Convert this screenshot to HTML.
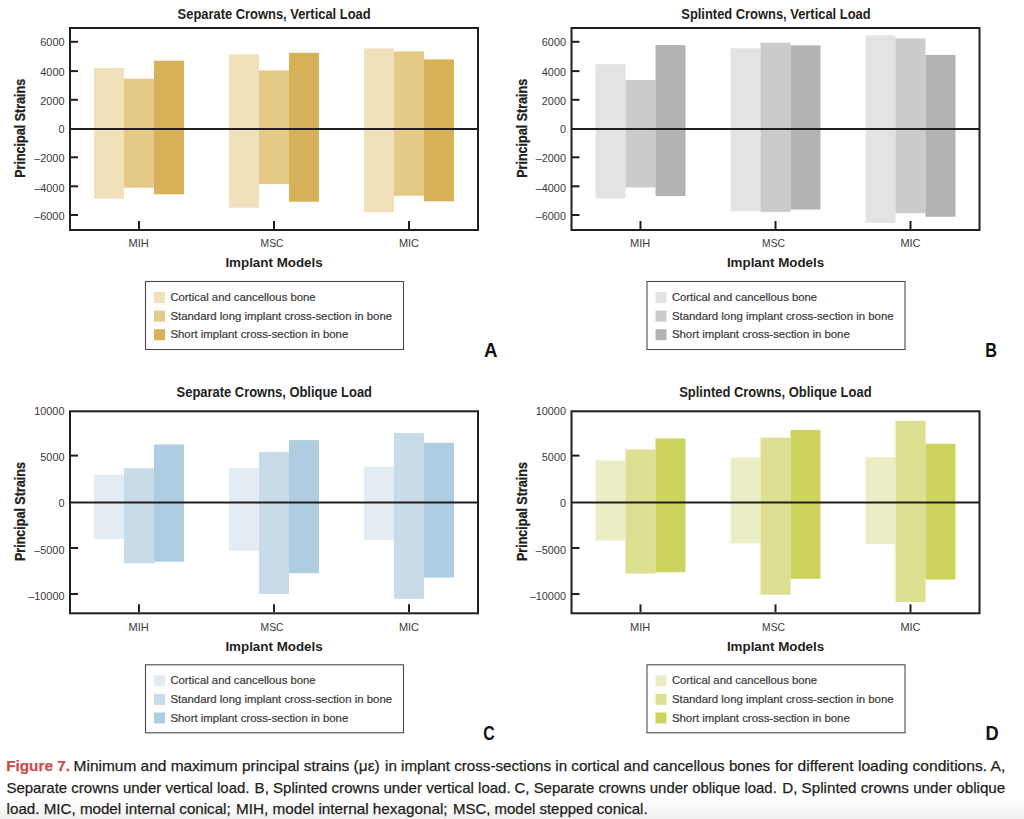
<!DOCTYPE html>
<html><head><meta charset="utf-8"><style>
html,body{margin:0;padding:0;background:#fff;}
body{width:1024px;height:819px;overflow:hidden;position:relative;}
.grad{position:absolute;left:0;top:798px;width:1024px;height:21px;background:linear-gradient(to bottom,rgba(240,240,240,0),rgba(240,240,240,1));}
svg{position:absolute;left:0;top:0;}
text{font-family:"Liberation Sans",sans-serif;}
</style></head><body>
<div class="grad"></div>
<svg width="1024" height="819" viewBox="0 0 1024 819">
<rect x="94" y="68" width="30" height="130.7" fill="#f0e1bb"/>
<rect x="124" y="78.7" width="30" height="109" fill="#e4c987"/>
<rect x="154" y="60.7" width="30" height="133.6" fill="#d7b157"/>
<rect x="229" y="54.3" width="30" height="153.4" fill="#f0e1bb"/>
<rect x="259" y="70.4" width="30" height="113.7" fill="#e4c987"/>
<rect x="289" y="52.8" width="30" height="148.9" fill="#d7b157"/>
<rect x="364" y="48.4" width="30" height="163.9" fill="#f0e1bb"/>
<rect x="394" y="51.4" width="30" height="144.4" fill="#e4c987"/>
<rect x="424" y="59.4" width="30" height="141.9" fill="#d7b157"/>
<line x1="70" y1="128.9" x2="478" y2="128.9" stroke="#231f20" stroke-width="2"/>
<line x1="70" y1="41.8" x2="78" y2="41.8" stroke="#231f20" stroke-width="2"/>
<text x="64.5" y="45.9" fill="#3a3a3a" font-size="10.9" text-anchor="end">6000</text>
<line x1="70" y1="71.1" x2="78" y2="71.1" stroke="#231f20" stroke-width="2"/>
<text x="64.5" y="76.2" fill="#3a3a3a" font-size="10.9" text-anchor="end">4000</text>
<line x1="70" y1="99.8" x2="78" y2="99.8" stroke="#231f20" stroke-width="2"/>
<text x="64.5" y="104.9" fill="#3a3a3a" font-size="10.9" text-anchor="end">2000</text>
<text x="64.5" y="132.9" fill="#3a3a3a" font-size="10.9" text-anchor="end">0</text>
<line x1="70" y1="157.3" x2="78" y2="157.3" stroke="#231f20" stroke-width="2"/>
<text x="64.5" y="162.3" fill="#3a3a3a" font-size="10.9" text-anchor="end">–2000</text>
<line x1="70" y1="186.3" x2="78" y2="186.3" stroke="#231f20" stroke-width="2"/>
<text x="64.5" y="191.9" fill="#3a3a3a" font-size="10.9" text-anchor="end">–4000</text>
<line x1="70" y1="215" x2="78" y2="215" stroke="#231f20" stroke-width="2"/>
<text x="64.5" y="220.4" fill="#3a3a3a" font-size="10.9" text-anchor="end">–6000</text>
<line x1="139" y1="221" x2="139" y2="229" stroke="#231f20" stroke-width="2"/>
<line x1="274" y1="221" x2="274" y2="229" stroke="#231f20" stroke-width="2"/>
<line x1="409" y1="221" x2="409" y2="229" stroke="#231f20" stroke-width="2"/>
<rect x="70" y="28" width="408" height="202" fill="none" stroke="#231f20" stroke-width="2"/>
<text x="177.6" y="19.4" fill="#231f20" font-size="14" font-weight="bold" textLength="193" lengthAdjust="spacingAndGlyphs">Separate Crowns, Vertical Load</text>
<text transform="translate(25,128.3) rotate(-90)" x="0" y="0" text-anchor="middle" fill="#231f20" stroke="#231f20" stroke-width="0.3" font-size="14.6" font-weight="bold" textLength="99" lengthAdjust="spacingAndGlyphs">Principal Strains</text>
<text x="128.6" y="247.1" fill="#3a3a3a" font-size="11.2" textLength="20.2" lengthAdjust="spacingAndGlyphs">MIH</text>
<text x="260.6" y="247.1" fill="#3a3a3a" font-size="11.2" textLength="23" lengthAdjust="spacingAndGlyphs">MSC</text>
<text x="399" y="247.1" fill="#3a3a3a" font-size="11.2" textLength="20" lengthAdjust="spacingAndGlyphs">MIC</text>
<text x="225.4" y="267.2" fill="#231f20" font-size="13.6" font-weight="bold" textLength="97.3" lengthAdjust="spacingAndGlyphs">Implant Models</text>
<rect x="145.5" y="281.5" width="258" height="68" fill="none" stroke="#4a4a4a" stroke-width="1.1"/>
<rect x="154" y="292" width="11" height="11" fill="#f0e1bb"/>
<text x="170.4" y="300.9" fill="#3a3a3a" font-size="11.2" textLength="145.2" lengthAdjust="spacingAndGlyphs" stroke="#3a3a3a" stroke-width="0.2">Cortical and cancellous bone</text>
<rect x="154" y="310.6" width="11" height="11" fill="#e4c987"/>
<text x="170.4" y="319.6" fill="#3a3a3a" font-size="11.2" textLength="221.7" lengthAdjust="spacingAndGlyphs" stroke="#3a3a3a" stroke-width="0.2">Standard long implant cross-section in bone</text>
<rect x="154" y="329.2" width="11" height="11" fill="#d7b157"/>
<text x="170.4" y="338.3" fill="#3a3a3a" font-size="11.2" textLength="177.9" lengthAdjust="spacingAndGlyphs" stroke="#3a3a3a" stroke-width="0.2">Short implant cross-section in bone</text>
<text x="484" y="357" fill="#111" font-size="19.5" font-weight="bold" textLength="13.5" lengthAdjust="spacingAndGlyphs">A</text>
<rect x="595.5" y="64.2" width="30" height="134.3" fill="#e3e3e3"/>
<rect x="625.5" y="80" width="30" height="107.5" fill="#cbcbcb"/>
<rect x="655.5" y="45.1" width="30" height="150.9" fill="#b3b3b3"/>
<rect x="730.5" y="48.3" width="30" height="162.9" fill="#e3e3e3"/>
<rect x="760.5" y="42.7" width="30" height="169.2" fill="#cbcbcb"/>
<rect x="790.5" y="45.4" width="30" height="164.1" fill="#b3b3b3"/>
<rect x="865.5" y="35.4" width="30" height="187.5" fill="#e3e3e3"/>
<rect x="895.5" y="38.5" width="30" height="174.7" fill="#cbcbcb"/>
<rect x="925.5" y="54.9" width="30" height="161.9" fill="#b3b3b3"/>
<line x1="571.5" y1="128.9" x2="979.5" y2="128.9" stroke="#231f20" stroke-width="2"/>
<line x1="571.5" y1="41.8" x2="579.5" y2="41.8" stroke="#231f20" stroke-width="2"/>
<text x="566" y="45.9" fill="#3a3a3a" font-size="10.9" text-anchor="end">6000</text>
<line x1="571.5" y1="71.1" x2="579.5" y2="71.1" stroke="#231f20" stroke-width="2"/>
<text x="566" y="76.2" fill="#3a3a3a" font-size="10.9" text-anchor="end">4000</text>
<line x1="571.5" y1="99.8" x2="579.5" y2="99.8" stroke="#231f20" stroke-width="2"/>
<text x="566" y="104.9" fill="#3a3a3a" font-size="10.9" text-anchor="end">2000</text>
<text x="566" y="132.9" fill="#3a3a3a" font-size="10.9" text-anchor="end">0</text>
<line x1="571.5" y1="157.3" x2="579.5" y2="157.3" stroke="#231f20" stroke-width="2"/>
<text x="566" y="162.3" fill="#3a3a3a" font-size="10.9" text-anchor="end">–2000</text>
<line x1="571.5" y1="186.3" x2="579.5" y2="186.3" stroke="#231f20" stroke-width="2"/>
<text x="566" y="191.9" fill="#3a3a3a" font-size="10.9" text-anchor="end">–4000</text>
<line x1="571.5" y1="215" x2="579.5" y2="215" stroke="#231f20" stroke-width="2"/>
<text x="566" y="220.4" fill="#3a3a3a" font-size="10.9" text-anchor="end">–6000</text>
<line x1="640.5" y1="221" x2="640.5" y2="229" stroke="#231f20" stroke-width="2"/>
<line x1="775.5" y1="221" x2="775.5" y2="229" stroke="#231f20" stroke-width="2"/>
<line x1="910.5" y1="221" x2="910.5" y2="229" stroke="#231f20" stroke-width="2"/>
<rect x="571.5" y="28" width="408" height="202" fill="none" stroke="#231f20" stroke-width="2"/>
<text x="681.3" y="19.4" fill="#231f20" font-size="14" font-weight="bold" textLength="189.3" lengthAdjust="spacingAndGlyphs">Splinted Crowns, Vertical Load</text>
<text transform="translate(526.5,128.3) rotate(-90)" x="0" y="0" text-anchor="middle" fill="#231f20" stroke="#231f20" stroke-width="0.3" font-size="14.6" font-weight="bold" textLength="99" lengthAdjust="spacingAndGlyphs">Principal Strains</text>
<text x="630.1" y="247.1" fill="#3a3a3a" font-size="11.2" textLength="20.2" lengthAdjust="spacingAndGlyphs">MIH</text>
<text x="762.1" y="247.1" fill="#3a3a3a" font-size="11.2" textLength="23" lengthAdjust="spacingAndGlyphs">MSC</text>
<text x="900.5" y="247.1" fill="#3a3a3a" font-size="11.2" textLength="20" lengthAdjust="spacingAndGlyphs">MIC</text>
<text x="726.9" y="267.2" fill="#231f20" font-size="13.6" font-weight="bold" textLength="97.3" lengthAdjust="spacingAndGlyphs">Implant Models</text>
<rect x="647" y="281.5" width="258" height="68" fill="none" stroke="#4a4a4a" stroke-width="1.1"/>
<rect x="655.5" y="292" width="11" height="11" fill="#e3e3e3"/>
<text x="671.9" y="300.9" fill="#3a3a3a" font-size="11.2" textLength="145.2" lengthAdjust="spacingAndGlyphs" stroke="#3a3a3a" stroke-width="0.2">Cortical and cancellous bone</text>
<rect x="655.5" y="310.6" width="11" height="11" fill="#cbcbcb"/>
<text x="671.9" y="319.6" fill="#3a3a3a" font-size="11.2" textLength="221.7" lengthAdjust="spacingAndGlyphs" stroke="#3a3a3a" stroke-width="0.2">Standard long implant cross-section in bone</text>
<rect x="655.5" y="329.2" width="11" height="11" fill="#b3b3b3"/>
<text x="671.9" y="338.3" fill="#3a3a3a" font-size="11.2" textLength="177.9" lengthAdjust="spacingAndGlyphs" stroke="#3a3a3a" stroke-width="0.2">Short implant cross-section in bone</text>
<text x="985.3" y="357" fill="#111" font-size="19.5" font-weight="bold" textLength="11.7" lengthAdjust="spacingAndGlyphs">B</text>
<rect x="94" y="474.6" width="30" height="64.4" fill="#e3ebf3"/>
<rect x="124" y="468.2" width="30" height="95.3" fill="#c8dbe9"/>
<rect x="154" y="444.5" width="30" height="117.2" fill="#aecde1"/>
<rect x="229" y="468.2" width="30" height="82.6" fill="#e3ebf3"/>
<rect x="259" y="451.9" width="30" height="142.1" fill="#c8dbe9"/>
<rect x="289" y="440.1" width="30" height="133.1" fill="#aecde1"/>
<rect x="364" y="466.5" width="30" height="73.3" fill="#e3ebf3"/>
<rect x="394" y="433" width="30" height="165.9" fill="#c8dbe9"/>
<rect x="424" y="442.8" width="30" height="134.8" fill="#aecde1"/>
<line x1="70" y1="502.6" x2="478" y2="502.6" stroke="#231f20" stroke-width="2"/>
<text x="64.5" y="415.1" fill="#3a3a3a" font-size="10.9" text-anchor="end">10000</text>
<line x1="70" y1="455.6" x2="78" y2="455.6" stroke="#231f20" stroke-width="2"/>
<text x="64.5" y="461.3" fill="#3a3a3a" font-size="10.9" text-anchor="end">5000</text>
<text x="64.5" y="506.9" fill="#3a3a3a" font-size="10.9" text-anchor="end">0</text>
<line x1="70" y1="548" x2="78" y2="548" stroke="#231f20" stroke-width="2"/>
<text x="64.5" y="554.3" fill="#3a3a3a" font-size="10.9" text-anchor="end">–5000</text>
<line x1="70" y1="594" x2="78" y2="594" stroke="#231f20" stroke-width="2"/>
<text x="64.5" y="600.3" fill="#3a3a3a" font-size="10.9" text-anchor="end">–10000</text>
<line x1="139" y1="604.3" x2="139" y2="612.3" stroke="#231f20" stroke-width="2"/>
<line x1="274" y1="604.3" x2="274" y2="612.3" stroke="#231f20" stroke-width="2"/>
<line x1="409" y1="604.3" x2="409" y2="612.3" stroke="#231f20" stroke-width="2"/>
<rect x="70" y="411.3" width="408" height="202" fill="none" stroke="#231f20" stroke-width="2"/>
<text x="176.6" y="396.9" fill="#231f20" font-size="14" font-weight="bold" textLength="195.4" lengthAdjust="spacingAndGlyphs">Separate Crowns, Oblique Load</text>
<text transform="translate(25,511.6) rotate(-90)" x="0" y="0" text-anchor="middle" fill="#231f20" stroke="#231f20" stroke-width="0.3" font-size="14.6" font-weight="bold" textLength="99" lengthAdjust="spacingAndGlyphs">Principal Strains</text>
<text x="128.6" y="630.9" fill="#3a3a3a" font-size="11.2" textLength="20.2" lengthAdjust="spacingAndGlyphs">MIH</text>
<text x="260.6" y="630.9" fill="#3a3a3a" font-size="11.2" textLength="23" lengthAdjust="spacingAndGlyphs">MSC</text>
<text x="399" y="630.9" fill="#3a3a3a" font-size="11.2" textLength="20" lengthAdjust="spacingAndGlyphs">MIC</text>
<text x="225.4" y="650.5" fill="#231f20" font-size="13.6" font-weight="bold" textLength="97.3" lengthAdjust="spacingAndGlyphs">Implant Models</text>
<rect x="145.5" y="664.8" width="258" height="68" fill="none" stroke="#4a4a4a" stroke-width="1.1"/>
<rect x="154" y="675.3" width="11" height="11" fill="#e3ebf3"/>
<text x="170.4" y="684.2" fill="#3a3a3a" font-size="11.2" textLength="145.2" lengthAdjust="spacingAndGlyphs" stroke="#3a3a3a" stroke-width="0.2">Cortical and cancellous bone</text>
<rect x="154" y="693.9" width="11" height="11" fill="#c8dbe9"/>
<text x="170.4" y="702.9" fill="#3a3a3a" font-size="11.2" textLength="221.7" lengthAdjust="spacingAndGlyphs" stroke="#3a3a3a" stroke-width="0.2">Standard long implant cross-section in bone</text>
<rect x="154" y="712.5" width="11" height="11" fill="#aecde1"/>
<text x="170.4" y="721.6" fill="#3a3a3a" font-size="11.2" textLength="177.9" lengthAdjust="spacingAndGlyphs" stroke="#3a3a3a" stroke-width="0.2">Short implant cross-section in bone</text>
<text x="483.3" y="740.3" fill="#111" font-size="19.5" font-weight="bold" textLength="11.5" lengthAdjust="spacingAndGlyphs">C</text>
<rect x="595.5" y="460.4" width="30" height="80.1" fill="#ebeec4"/>
<rect x="625.5" y="449.4" width="30" height="124.1" fill="#dde090"/>
<rect x="655.5" y="438.4" width="30" height="133.8" fill="#ccd45e"/>
<rect x="730.5" y="457.5" width="30" height="85.9" fill="#ebeec4"/>
<rect x="760.5" y="437.7" width="30" height="157" fill="#dde090"/>
<rect x="790.5" y="429.9" width="30" height="148.9" fill="#ccd45e"/>
<rect x="865.5" y="457.2" width="30" height="87" fill="#ebeec4"/>
<rect x="895.5" y="420.8" width="30" height="181.2" fill="#dde090"/>
<rect x="925.5" y="443.8" width="30" height="135.8" fill="#ccd45e"/>
<line x1="571.5" y1="502.6" x2="979.5" y2="502.6" stroke="#231f20" stroke-width="2"/>
<text x="566" y="415.1" fill="#3a3a3a" font-size="10.9" text-anchor="end">10000</text>
<line x1="571.5" y1="455.6" x2="579.5" y2="455.6" stroke="#231f20" stroke-width="2"/>
<text x="566" y="461.3" fill="#3a3a3a" font-size="10.9" text-anchor="end">5000</text>
<text x="566" y="506.9" fill="#3a3a3a" font-size="10.9" text-anchor="end">0</text>
<line x1="571.5" y1="548" x2="579.5" y2="548" stroke="#231f20" stroke-width="2"/>
<text x="566" y="554.3" fill="#3a3a3a" font-size="10.9" text-anchor="end">–5000</text>
<line x1="571.5" y1="594" x2="579.5" y2="594" stroke="#231f20" stroke-width="2"/>
<text x="566" y="600.3" fill="#3a3a3a" font-size="10.9" text-anchor="end">–10000</text>
<line x1="640.5" y1="604.3" x2="640.5" y2="612.3" stroke="#231f20" stroke-width="2"/>
<line x1="775.5" y1="604.3" x2="775.5" y2="612.3" stroke="#231f20" stroke-width="2"/>
<line x1="910.5" y1="604.3" x2="910.5" y2="612.3" stroke="#231f20" stroke-width="2"/>
<rect x="571.5" y="411.3" width="408" height="202" fill="none" stroke="#231f20" stroke-width="2"/>
<text x="679.2" y="396.9" fill="#231f20" font-size="14" font-weight="bold" textLength="192.4" lengthAdjust="spacingAndGlyphs">Splinted Crowns, Oblique Load</text>
<text transform="translate(526.5,511.6) rotate(-90)" x="0" y="0" text-anchor="middle" fill="#231f20" stroke="#231f20" stroke-width="0.3" font-size="14.6" font-weight="bold" textLength="99" lengthAdjust="spacingAndGlyphs">Principal Strains</text>
<text x="630.1" y="630.9" fill="#3a3a3a" font-size="11.2" textLength="20.2" lengthAdjust="spacingAndGlyphs">MIH</text>
<text x="762.1" y="630.9" fill="#3a3a3a" font-size="11.2" textLength="23" lengthAdjust="spacingAndGlyphs">MSC</text>
<text x="900.5" y="630.9" fill="#3a3a3a" font-size="11.2" textLength="20" lengthAdjust="spacingAndGlyphs">MIC</text>
<text x="726.9" y="650.5" fill="#231f20" font-size="13.6" font-weight="bold" textLength="97.3" lengthAdjust="spacingAndGlyphs">Implant Models</text>
<rect x="647" y="664.8" width="258" height="68" fill="none" stroke="#4a4a4a" stroke-width="1.1"/>
<rect x="655.5" y="675.3" width="11" height="11" fill="#ebeec4"/>
<text x="671.9" y="684.2" fill="#3a3a3a" font-size="11.2" textLength="145.2" lengthAdjust="spacingAndGlyphs" stroke="#3a3a3a" stroke-width="0.2">Cortical and cancellous bone</text>
<rect x="655.5" y="693.9" width="11" height="11" fill="#dde090"/>
<text x="671.9" y="702.9" fill="#3a3a3a" font-size="11.2" textLength="221.7" lengthAdjust="spacingAndGlyphs" stroke="#3a3a3a" stroke-width="0.2">Standard long implant cross-section in bone</text>
<rect x="655.5" y="712.5" width="11" height="11" fill="#ccd45e"/>
<text x="671.9" y="721.6" fill="#3a3a3a" font-size="11.2" textLength="177.9" lengthAdjust="spacingAndGlyphs" stroke="#3a3a3a" stroke-width="0.2">Short implant cross-section in bone</text>
<text x="985.5" y="740.3" fill="#111" font-size="19.5" font-weight="bold" textLength="13.2" lengthAdjust="spacingAndGlyphs">D</text>
<text x="6.2" y="770.8" fill="#c9504b" font-size="14.6" font-weight="bold" textLength="63.7" lengthAdjust="spacingAndGlyphs" stroke="#c9504b" stroke-width="0.25">Figure 7.</text>
<text x="73.6" y="770.8" fill="#231f20" font-size="14.6" textLength="306.1" lengthAdjust="spacingAndGlyphs" stroke="#231f20" stroke-width="0.25">Minimum and maximum principal strains (με)</text>
<text x="385.1" y="770.8" fill="#231f20" font-size="14.6" textLength="385.1" lengthAdjust="spacingAndGlyphs" stroke="#231f20" stroke-width="0.25">in implant cross-sections in cortical and cancellous bones</text>
<text x="775" y="770.8" fill="#231f20" font-size="14.6" textLength="230.3" lengthAdjust="spacingAndGlyphs" stroke="#231f20" stroke-width="0.25">for different loading conditions. A,</text>
<text x="6.4" y="792.5" fill="#231f20" font-size="14.6" textLength="243.1" lengthAdjust="spacingAndGlyphs" stroke="#231f20" stroke-width="0.25">Separate crowns under vertical load.</text>
<text x="254.6" y="792.5" fill="#231f20" font-size="14.6" textLength="256.1" lengthAdjust="spacingAndGlyphs" stroke="#231f20" stroke-width="0.25">B, Splinted crowns under vertical load.</text>
<text x="514.6" y="792.5" fill="#231f20" font-size="14.6" textLength="262.2" lengthAdjust="spacingAndGlyphs" stroke="#231f20" stroke-width="0.25">C, Separate crowns under oblique load.</text>
<text x="782.2" y="792.5" fill="#231f20" font-size="14.6" textLength="223.1" lengthAdjust="spacingAndGlyphs" stroke="#231f20" stroke-width="0.25">D, Splinted crowns under oblique</text>
<text x="6.6" y="814.2" fill="#231f20" font-size="14.6" textLength="224.1" lengthAdjust="spacingAndGlyphs" stroke="#231f20" stroke-width="0.25">load. MIC, model internal conical;</text>
<text x="236.1" y="814.2" fill="#231f20" font-size="14.6" textLength="211.5" lengthAdjust="spacingAndGlyphs" stroke="#231f20" stroke-width="0.25">MIH, model internal hexagonal;</text>
<text x="453" y="814.2" fill="#231f20" font-size="14.6" textLength="194.6" lengthAdjust="spacingAndGlyphs" stroke="#231f20" stroke-width="0.25">MSC, model stepped conical.</text>
</svg>
</body></html>
